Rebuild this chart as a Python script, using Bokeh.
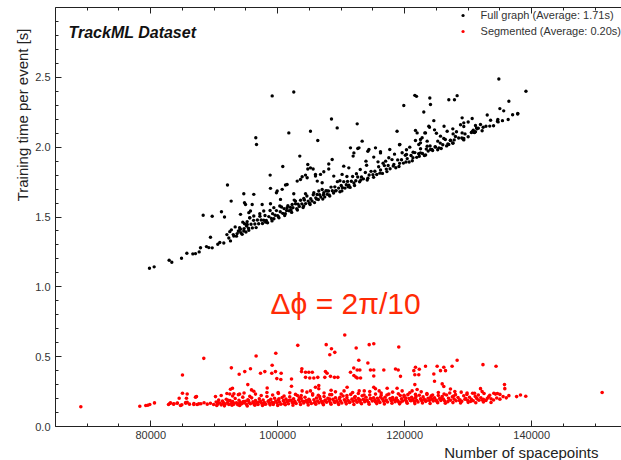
import math
from bokeh.plotting import figure
from bokeh.models import (LinearAxis, FixedTicker, NumeralTickFormatter,
                          BasicTickFormatter, Label, Legend, LegendItem, Range1d, Title)
from bokeh.embed import file_html
from bokeh.resources import INLINE

# ---------------- data ----------------
x_major = [80000, 100000, 120000, 140000]
x_minor = [65000, 70000, 75000, 85000, 90000, 95000, 105000, 110000, 115000,
           125000, 130000, 135000, 145000, 150000]
y_major = [0.0, 0.5, 1.0, 1.5, 2.0, 2.5]
y_minor = [0.1, 0.2, 0.3, 0.4, 0.6, 0.7, 0.8, 0.9, 1.1, 1.2, 1.3, 1.4, 1.6, 1.7, 1.8, 1.9,
           2.1, 2.2, 2.3, 2.4, 2.6, 2.7, 2.8, 2.9]

# Full graph: sparse low-x part
black_left = [(79800,1.133),(80540,1.143),(82900,1.190),(83320,1.176),(84850,1.205),(85690,1.240),
 (86630,1.236),(87050,1.238),(87630,1.250),(87840,1.280),(88780,1.288),(89150,1.281),(89680,1.279),
 (89410,1.355),(90560,1.305),(90880,1.317),(91510,1.314),(92560,1.329),(92450,1.395),(93080,1.364),
 (93610,1.381),(93870,1.400),(94140,1.412),(94400,1.376),(94660,1.400),(94770,1.452),(95080,1.436),
 (95190,1.467),(95450,1.405),(95600,1.495)]

# Full graph: dense band
black_band = [
 (92000,1.374),(92300,1.350),(92700,1.408),(93000,1.374),(93300,1.429),(93500,1.363),(93800,1.399),(94000,1.423),(94200,1.387),(94500,1.463),(94700,1.417),
 (95000,1.393),(95200,1.446),(95400,1.420),(95600,1.494),(95800,1.448),(96000,1.422),(96200,1.476),(96400,1.450),(96600,1.424),(96800,1.478),(97000,1.452),(97200,1.505),(97400,1.479),(97600,1.453),(97800,1.477),(98000,1.511),(98200,1.475),(98400,1.459),(98600,1.503),(98800,1.547),(99000,1.490),(99200,1.524),(99400,1.488),(99600,1.512),(99800,1.546),
 (100000,1.510),(100200,1.494),(100400,1.538),(100600,1.572),(100800,1.526),(101000,1.560),(101200,1.523),(101400,1.547),(101600,1.581),(101800,1.545),(102000,1.569),(102200,1.533),(102400,1.567),(102600,1.621),(102800,1.595),(103000,1.559),(103200,1.592),(103400,1.576),(103600,1.620),(103800,1.594),(104000,1.568),(104200,1.622),(104400,1.596),(104600,1.650),(104800,1.614),(105000,1.598),(105200,1.631),(105400,1.615),(105600,1.659),(105800,1.603),(106000,1.637),(106200,1.661),(106400,1.625),(106600,1.659),(106800,1.643),(107000,1.697),(107200,1.660),(107400,1.644),(107600,1.688),(107800,1.662),(108000,1.686),(108200,1.650),(108400,1.714),(108600,1.688),(108800,1.672),(109000,1.716),(109200,1.689),(109400,1.753),(109600,1.707),(109800,1.681),(110000,1.725),(110200,1.709),(110400,1.753),(110600,1.707),(110800,1.731),(111000,1.755),(111200,1.728),(111400,1.712),(111600,1.756),(111800,1.790),
 (112000,1.744),(112300,1.760),(112600,1.786),(112900,1.752),(113200,1.787),(113500,1.773),(113800,1.819),(114100,1.765),(114400,1.801),(114700,1.827),(115000,1.803),(115300,1.828),(115600,1.804),(115900,1.860),(116200,1.836),(116500,1.812),(116800,1.868),(117100,1.843),(117400,1.869),(117700,1.845),(118000,1.911),(118300,1.877),(118600,1.853),(118900,1.909),(119200,1.884),(119500,1.910),(119800,1.886),(120100,1.942),(120400,1.918),(120700,1.894),(121000,1.940),(121300,1.925),(121600,1.961),(121900,1.927),(122200,1.953),(122500,1.989),(122800,1.955),(123100,1.940),(123400,1.986),(123700,1.972),
 (124000,2.008),(124400,1.976),(124800,2.004),(125200,1.981),(125600,2.029),(126000,2.017),(126400,2.055),(126800,2.023),(127200,2.050),(127600,2.028),
 (128000,2.076),(128500,2.066),(129000,2.066),(129500,2.095),(130000,2.075),(130500,2.105),(131000,2.105),(131600,2.136),(132200,2.118),(132800,2.150),(133400,2.151),(134000,2.153),(134600,2.185),(135400,2.190),(136300,2.198),(137000,2.232),(137800,2.237)]

black_band_lower = [
 (98100,1.463),(99100,1.472),(100100,1.502),(101100,1.511),(102100,1.551),(103100,1.550),(104100,1.580),(105100,1.589),
 (106100,1.629),(107100,1.628),(108100,1.658),(109100,1.687),(110100,1.687),(111100,1.716),(112100,1.726),(113100,1.765),
 (114200,1.777),(115100,1.784),(116100,1.814),(117200,1.825),(118200,1.865),(119100,1.862),(120200,1.894),(121200,1.903),
 (122300,1.935),(123300,1.944),(124300,1.984),(125400,1.995),(126600,2.009),(127800,2.052),(129200,2.059),(130800,2.121)]

# Full graph: scattered points above the band
black_spread = [
 (88260,1.512),(89680,1.505),(91140,1.538),(91620,1.500),(92090,1.729),(92670,1.614),(94930,1.590),(95450,1.531),
 (95710,1.543),(94660,1.667),(96230,1.662),(96550,2.067),(96660,2.019),(99130,2.367),(102530,2.395),(101750,2.102),
 (105160,2.114),(106310,2.048),(103480,1.936),(100800,1.862),(98810,1.800),(104740,1.876),(98860,1.705),(99800,1.674),
 (100700,1.698),(101480,1.733),(103070,1.757),(103850,1.788),(104380,1.800),(102530,1.667),(100440,1.626),(94140,1.519),
 (104740,1.844),(105580,1.844),(108040,1.880),(108040,1.844),(107260,1.824),(94770,1.602),(99920,1.686),(101230,1.729),
 (105950,1.793),(106230,1.757),(106740,1.805),(107000,1.745),(97550,1.590),(98860,1.595),(95980,1.590),(96230,1.507),
 (97180,1.524),(97800,1.543),(99390,1.567),(100330,1.579),(101480,1.567),(102280,1.590),(102800,1.614),(104110,1.633),
 (104380,1.667),(105690,1.674),(106470,1.686),(107260,1.674),(107780,1.686),
 (121600,2.371),(121860,2.364),(123960,2.352),(124060,2.305),(126950,2.340),(127840,2.340),(128260,2.369),(119860,2.298),
 (123010,2.252),(124590,2.190),(123910,2.143),(124700,2.124),(118800,2.114),(121700,2.120),(121960,2.102),(123170,2.102),
 (125640,2.079),(126690,2.114),(127580,2.131),(129050,2.210),(129310,2.174),(130630,2.205),(132360,2.143),(133530,2.193),
 (131310,2.138),(130890,2.107),(129310,2.062),(108470,2.202),(109370,2.138),(112520,2.167),(113300,2.043),(111460,1.995),
 (112000,1.959),(112800,1.995),(114370,1.983),(115400,1.995),(116190,1.959),(117500,1.924),(119240,2.019),(120280,1.948),
 (122220,2.019),(123540,2.043),(122490,1.959),(105160,1.852),(105950,1.805),(108580,1.912),(108830,1.793),(110140,1.805),
 (110400,1.864),(111200,1.852),(104640,1.781),(103590,1.769),
 (139100,2.400),(134830,2.488),(136410,2.329),(134990,2.276),(134670,2.198),(137810,2.241),(134720,2.181),(131150,2.155),
 (131940,2.162),(129310,2.148),(129050,2.102),(130630,2.110),(131150,2.110),(131410,2.131),(128160,2.110),(127630,2.095),
 (129310,2.052),(126160,2.062),(125210,2.043),(127210,2.048),(127580,2.031),(126950,2.019),(125750,1.990),(124850,2.000),
 (123280,2.102),(122750,2.067),(122490,2.031),(123540,2.007),(124060,1.983),(121700,2.048),(122490,2.055),(123800,2.150),
 (111880,1.936),(112610,1.990),(114200,1.971),(115130,1.929),(116190,1.967),(117650,1.983),(119180,2.017),(120280,1.981),
 (121330,1.964),(109800,1.760),(110900,1.790),(113000,1.840),(114000,1.870),(115800,1.895),(117000,1.900),(118400,1.950),
 (116600,1.885),(119600,1.960),(112400,1.810),(113900,1.900),(120800,2.000),(125000,2.100),(126200,2.150),(128800,2.160),
 (130000,2.180),(133000,2.230),(135600,2.260)]

# Segmented: dense band
red_band = [
 (83000,.165),(83600,.160),(84200,.168),(84900,.155),(85500,.172),(86100,.160),(86800,.165),(87300,.158),(87900,.163),(88400,.170),(88900,.160),(89400,.166),(89900,.158),
 (90300,.175),(90500,.160),(90700,.190),(90900,.168),(91100,.155),(91300,.182),(91500,.170),(91700,.160),(91900,.195),(92100,.172),(92300,.158),(92500,.185),(92700,.165),(92900,.178),(93100,.160),(93300,.200),(93500,.170),(93700,.156),(93900,.188),(94100,.175),(94300,.162),(94500,.210),(94700,.168),(94900,.180),(95100,.158),(95300,.192),(95500,.172),(95700,.163),(95900,.205),(96100,.176),(96300,.160),(96500,.186),(96700,.170),(96900,.157),(97100,.198),(97300,.178),(97500,.165),(97700,.190),(97900,.172),(98100,.160),(98300,.215),(98500,.180),(98700,.166),(98900,.194),(99100,.174),(99300,.158),(99500,.202),(99700,.182),(99900,.168),
 (100100,.190),(100300,.176),(100500,.160),(100700,.208),(100900,.185),(101100,.170),(101300,.196),(101500,.178),(101700,.163),(101900,.212),(102100,.188),(102300,.172),(102500,.198),(102700,.180),(102900,.165),(103100,.222),(103300,.190),(103500,.175),(103700,.200),(103900,.182),(104100,.168),(104300,.210),(104500,.186),(104700,.172),(104900,.195),(105100,.178),(105300,.165),(105500,.225),(105700,.192),(105900,.176),(106100,.204),(106300,.183),(106500,.170),(106700,.198),(106900,.180),(107100,.166),(107300,.215),(107500,.190),(107700,.174),(107900,.202),(108100,.185),(108300,.170),(108500,.228),(108700,.194),(108900,.178),(109100,.206),(109300,.184),(109500,.170),(109700,.198),(109900,.182),
 (110100,.168),(110300,.218),(110500,.192),(110700,.176),(110900,.205),(111100,.186),(111300,.172),(111500,.230),(111700,.196),(111900,.180),(112100,.208),(112300,.188),(112500,.174),(112700,.200),(112900,.184),(113100,.170),(113300,.220),(113500,.194),(113700,.178),(113900,.210),(114100,.188),(114300,.174),(114500,.226),(114700,.198),(114900,.182),(115100,.206),(115300,.190),(115500,.175),(115700,.202),(115900,.185),(116100,.172),(116300,.224),(116500,.196),(116700,.180),(116900,.210),(117100,.190),(117300,.176),(117500,.232),(117700,.200),(117900,.184),(118100,.208),(118300,.192),(118500,.178),(118700,.204),(118900,.186),(119100,.174),(119300,.222),(119500,.198),(119700,.182),(119900,.212),
 (120100,.192),(120300,.178),(120500,.228),(120700,.200),(120900,.186),(121100,.210),(121300,.194),(121500,.180),(121700,.205),(121900,.188),(122100,.176),(122300,.224),(122500,.198),(122700,.184),(122900,.212),(123100,.194),(123300,.180),(123500,.230),(123700,.202),(123900,.186),(124100,.210),(124300,.195),(124500,.182),(124700,.206),(124900,.190),(125100,.178),(125300,.222),(125500,.200),(125700,.186),(125900,.214),(126100,.196),(126300,.182),(126600,.226),(126900,.202),(127200,.188),(127500,.212),(127800,.196),(128100,.184),(128400,.208),(128700,.192),(129000,.180),(129300,.220),(129600,.200),(129900,.188),
 (130200,.210),(130500,.194),(130800,.184),(131100,.216),(131400,.198),(131700,.188),(132000,.206),(132400,.194),(132800,.186),(133200,.212),(133600,.198),(134000,.190),(134500,.204),(135000,.196),(135500,.214),(136000,.205)]

red_band_extra = [
 (90600,.172),(91400,.165),(92200,.188),(93000,.170),(93800,.162),(94600,.178),(95400,.185),(96200,.168),(97000,.176),(97800,.160),
 (98600,.184),(99400,.170),(100200,.198),(101000,.163),(101800,.186),(102600,.172),(103400,.205),(104200,.178),(105000,.190),(105800,.170),
 (106600,.214),(107400,.182),(108200,.196),(109000,.172),(109800,.210),(110600,.186),(111400,.176),(112200,.214),(113000,.190),(113800,.184),
 (114600,.200),(115400,.178),(116200,.210),(117000,.184),(117800,.196),(118600,.188),(119400,.176),(120200,.204),(121000,.184),(121800,.216),
 (122600,.190),(123400,.184),(124200,.220),(125000,.186),(125800,.198),(126800,.178),(127700,.218),(128600,.186),(129500,.196),(130400,.180),
 (131300,.205),(132200,.190),(133000,.200)]

red_band_upper = [
 (90200,.214),(91100,.222),(92000,.236),(92900,.218),(93800,.228),(94700,.240),(95600,.216),(96500,.232),(97400,.222),(98300,.244),
 (99200,.226),(100100,.236),(101000,.218),(101900,.242),(102800,.230),(103700,.222),(104600,.246),(105500,.234),(106400,.224),(107300,.240),
 (108200,.228),(109100,.248),(110000,.232),(110900,.222),(111800,.244),(112700,.236),(113600,.226),(114500,.250),(115400,.232),(116300,.240),
 (117200,.226),(118100,.246),(119000,.234),(119900,.224),(120800,.242),(121700,.230),(122600,.248),(123500,.236),(124400,.226),(125300,.244),
 (126200,.232),(127100,.240),(128000,.228),(128900,.246),(129800,.230),(130700,.238),(131600,.226),(132500,.236),(133400,.224),(134300,.232)]

red_band_lower = [
 (90400,.150),(91600,.148),(92800,.152),(94000,.150),(95200,.147),(96400,.153),(97600,.150),(98800,.155),(100000,.151),(101200,.156),
 (102400,.152),(103600,.158),(104800,.154),(106000,.159),(107200,.156),(108400,.160),(109600,.157),(110800,.162),(112000,.158),(113200,.163),
 (114400,.160),(115600,.164),(116800,.161),(118000,.166),(119200,.162),(120400,.167),(121600,.164),(122800,.168),(124000,.165),(125200,.170),
 (126400,.167),(127600,.171),(128800,.168),(130000,.173),(131200,.170),(132400,.175),(133600,.172)]

# Segmented: isolated / upper points
red_spread = [
 (68990,.141),(78280,.145),(79220,.150),(79540,.152),(79850,.157),(80590,.169),(82800,.157),(83110,.169),(83630,.162),(84170,.167),
 (84480,.202),(85000,.238),(85000,.369),(84690,.150),(85520,.167),(85740,.174),(85630,.202),(86780,.157),(87050,.210),(87210,.214),
 (87570,.162),(88360,.488),(85740,.233),(92700,.420),(93930,.374),(94810,.393),(95710,.414),(96600,.505),(97290,.381),(97970,.393),
 (99130,.438),(99700,.524),(99070,.381),(99650,.393),(100540,.381),(99860,.343),(100490,.336),(102170,.340),(103160,.581),(103800,.414),
 (103750,.393),(95290,.300),(95870,.262),(96230,.252),(98340,.276),(102170,.288),(92560,.267),(92880,.274),(100070,.243),(92450,.233),
 (93100,.235),(94000,.232),
 (110560,.655),(107640,.586),(108470,.557),(108990,.531),(108200,.514),(112360,.562),(114410,.586),(115130,.593),(119070,.569),(112770,.474),
 (114200,.455),(111980,.419),(112520,.405),(112940,.405),(114610,.405),(115130,.405),(116710,.405),(118550,.412),(118980,.405),(119340,.359),
 (111460,.388),(112000,.365),(112300,.355),(112520,.347),(113050,.347),(115130,.362),(104380,.388),(104900,.388),(105450,.388),(104380,.352),
 (105050,.347),(105690,.347),(106310,.352),(107520,.393),(107780,.381),(107420,.352),(108310,.359),(108940,.352),(109470,.352),(105950,.281),
 (106470,.293),(106470,.270),(110930,.281),(115130,.281),(115400,.270),(117240,.274),(118800,.274),(103850,.255),(105160,.255),(108410,.260),
 (110450,.255),(112830,.255),(113630,.255),(115980,.255),(119600,.255),(121170,.255),(121960,.265),
 (128260,.474),(132330,.443),(134390,.431),(125110,.431),(126160,.424),(127470,.431),(121700,.424),(121440,.400),(123280,.431),(122300,.410),
 (124590,.376),(125640,.400),(126430,.400),(121600,.371),(122220,.371),(124700,.324),(125910,.305),(126160,.286),(121600,.300),(135720,.300),
 (135770,.271),(131940,.271),(132200,.250),(134040,.238),(134600,.236),(135000,.230),(136410,.221),(137630,.214),(138240,.226),(139070,.217),
 (151100,.243),(127210,.269),(127900,.250),(129830,.240),(131000,.238)]

full_label = "Full graph (Average: 1.71s)"
seg_label = "Segmented (Average: 0.20s)"

black_pts = black_left + black_band + black_band_lower + black_spread
red_pts = red_band + red_band_extra + red_band_upper + red_band_lower + red_spread
bx = [q[0] for q in black_pts]; by = [q[1] for q in black_pts]
rx = [q[0] for q in red_pts]; ry = [q[1] for q in red_pts]

# ---------------- figure ----------------
FONT = "Liberation Sans"
p = figure(width=621, height=460, output_backend="svg", toolbar_location=None,
           x_range=Range1d(65000, 154150), y_range=Range1d(0, 3.0),
           x_axis_location=None, y_axis_location=None,
           min_border_left=55, min_border_right=0, min_border_top=7, min_border_bottom=34)
p.grid.visible = False
p.outline_line_color = None
p.background_fill_color = "white"
p.border_fill_color = "white"

def style_axis(ax):
    ax.axis_line_color = "#222"
    ax.axis_line_width = 1
    ax.major_tick_line_color = "#222"
    ax.minor_tick_line_color = "#222"
    ax.major_tick_in = 6
    ax.major_tick_out = 0
    ax.minor_tick_in = 3
    ax.minor_tick_out = 0
    ax.major_label_text_font = FONT
    ax.major_label_text_font_size = "11px"
    ax.major_label_text_color = "#333"

xb = LinearAxis(ticker=FixedTicker(ticks=x_major, minor_ticks=x_minor),
                formatter=BasicTickFormatter(use_scientific=False))
style_axis(xb); xb.major_label_standoff = 4
p.add_layout(xb, "below")

xt = LinearAxis(ticker=FixedTicker(ticks=x_major, minor_ticks=x_minor),
                major_label_overrides={v: "" for v in x_major})
style_axis(xt); xt.major_label_standoff = 0
p.add_layout(xt, "above")

yl = LinearAxis(ticker=FixedTicker(ticks=y_major, minor_ticks=y_minor),
                formatter=NumeralTickFormatter(format="0.0"))
style_axis(yl); yl.major_label_standoff = 5
p.add_layout(yl, "left")

br = p.scatter(bx, by, marker="circle", size=3.4, fill_color="black", line_color=None)
rr = p.scatter(rx, ry, marker="circle", size=3.6, fill_color="#ff0000", line_color=None)

legend = Legend(items=[LegendItem(label=full_label, renderers=[br]),
                       LegendItem(label=seg_label, renderers=[rr])],
                location="top_right", border_line_color=None, background_fill_alpha=0,
                margin=0, padding=7, spacing=0, glyph_width=8, glyph_height=16,
                label_height=16, label_standoff=14, label_text_font=FONT,
                label_text_font_size="11px", label_text_color="#333")
p.add_layout(legend)

p.add_layout(Label(x=67050, y=2.821, text="TrackML Dataset", text_font=FONT,
                   text_font_size="16px", text_font_style="bold italic", text_color="#111",
                   text_align="left", text_baseline="alphabetic"))
p.add_layout(Label(x=98860, y=0.881, text="Δϕ = 2π/10", text_font=FONT,
                   text_font_size="30px", text_color="#ff2b06",
                   text_align="left", text_baseline="alphabetic"))

ytitle = Title(text="Training time per event [s]", align="right", offset=21, standoff=4,
               text_font=FONT, text_font_size="15px", text_font_style="normal", text_color="#222")
p.add_layout(ytitle, "left")
xtitle = Title(text="Number of spacepoints", align="right", offset=23, standoff=0,
               text_font=FONT, text_font_size="15px", text_font_style="normal", text_color="#222")
p.add_layout(xtitle, "below")

open("out.html", "w").write(file_html(p, INLINE))
